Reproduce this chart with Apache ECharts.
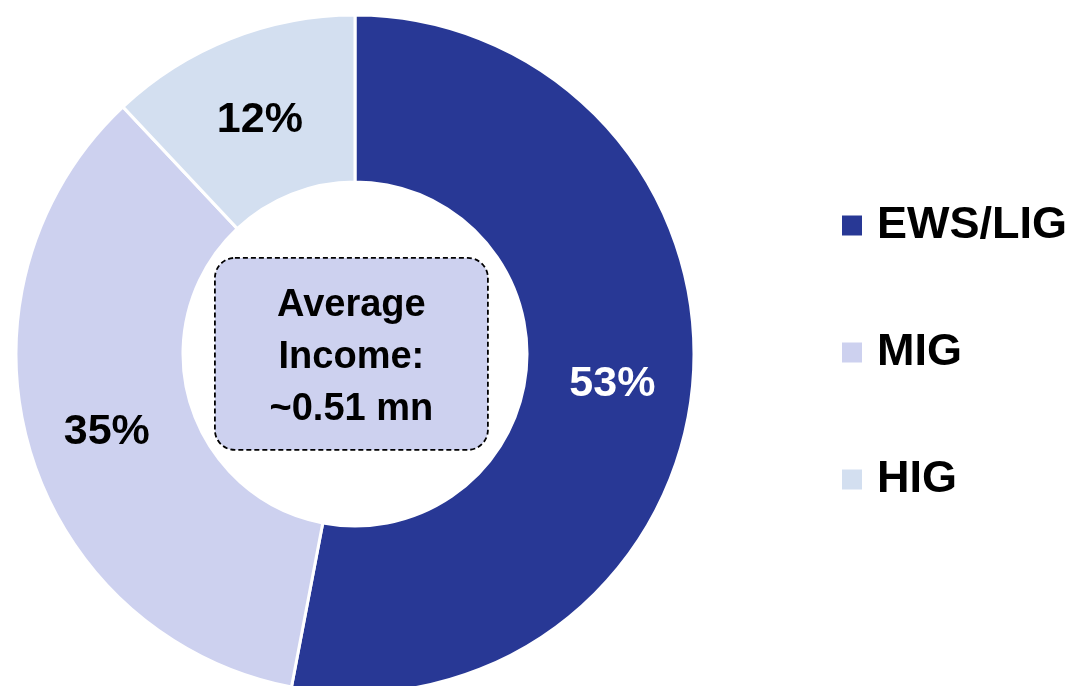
<!DOCTYPE html>
<html>
<head>
<meta charset="utf-8">
<script src="https://cdn.jsdelivr.net/npm/echarts@6/dist/echarts.min.js"></script>
<style>
  html, body { margin: 0; padding: 0; background: #fff; }
  #main { width: 1076px; height: 686px; }
</style>
</head>
<body>
<div id="main"></div>
<script>
// income groups and their share (%)
const groups = ['EWS/LIG', 'MIG', 'HIG']
const shares = [53, 35, 12]
const colors = ['#283895', '#CDD1EF', '#D3DFF0']
const labelColors = ['#fff', '#000', '#000']
const centerLines = ['Average', 'Income:', '~0.51 mn']

const chart = echarts.init(document.getElementById('main'))
const font = '"Liberation Sans", Arial, sans-serif'

const option = {
  animation: false,
  legend: {
    orient: 'vertical',
    left: 840,
    top: 203,
    padding: 0,
    icon: 'rect',
    itemWidth: 22,
    itemHeight: 22,
    itemGap: 82,
    data: groups,
    textStyle: {
      fontFamily: font,
      fontWeight: 'bold',
      fontSize: 45,
      lineHeight: 42,
      color: '#000',
      padding: [0, 0, 0, 9],
    },
  },
  graphic: [
    {
      type: 'group',
      left: 214,
      top: 257,
      children: [
        {
          type: 'rect',
          shape: { x: 0, y: 0, width: 273, height: 192, r: 20 },
          style: {
            fill: '#CDD1EF',
            stroke: '#000',
            lineWidth: 1.8,
            lineDash: [5, 3],
          },
        },
        {
          type: 'text',
          x: 136.5,
          y: 100,
          style: {
            text: centerLines.join('\n'),
            font: 'bold 38px ' + font,
            fill: '#000',
            align: 'center',
            verticalAlign: 'middle',
            lineHeight: 52,
          },
        },
      ],
    },
  ],
  series: [
    {
      type: 'pie',
      center: [355, 354],
      radius: [172, 339],
      startAngle: 90,
      clockwise: true,
      avoidLabelOverlap: false,
      itemStyle: { borderColor: '#fff', borderWidth: 3 },
      label: {
        show: true,
        position: 'inside',
        formatter: (p) => '{v|' + p.value + '%}',
        rich: {
          v: {
            fontFamily: font,
            fontWeight: 'bold',
            fontSize: 43,
            padding: [12, 0, 0, 0],
          },
        },
      },
      labelLine: { show: false },
      emphasis: { disabled: true },
      data: groups.map((name, i) => ({
        name,
        value: shares[i],
        itemStyle: { color: colors[i] },
        label: { rich: { v: { color: labelColors[i] } } },
      })),
    },
  ],
}
chart.setOption(option)
</script>
</body>
</html>
